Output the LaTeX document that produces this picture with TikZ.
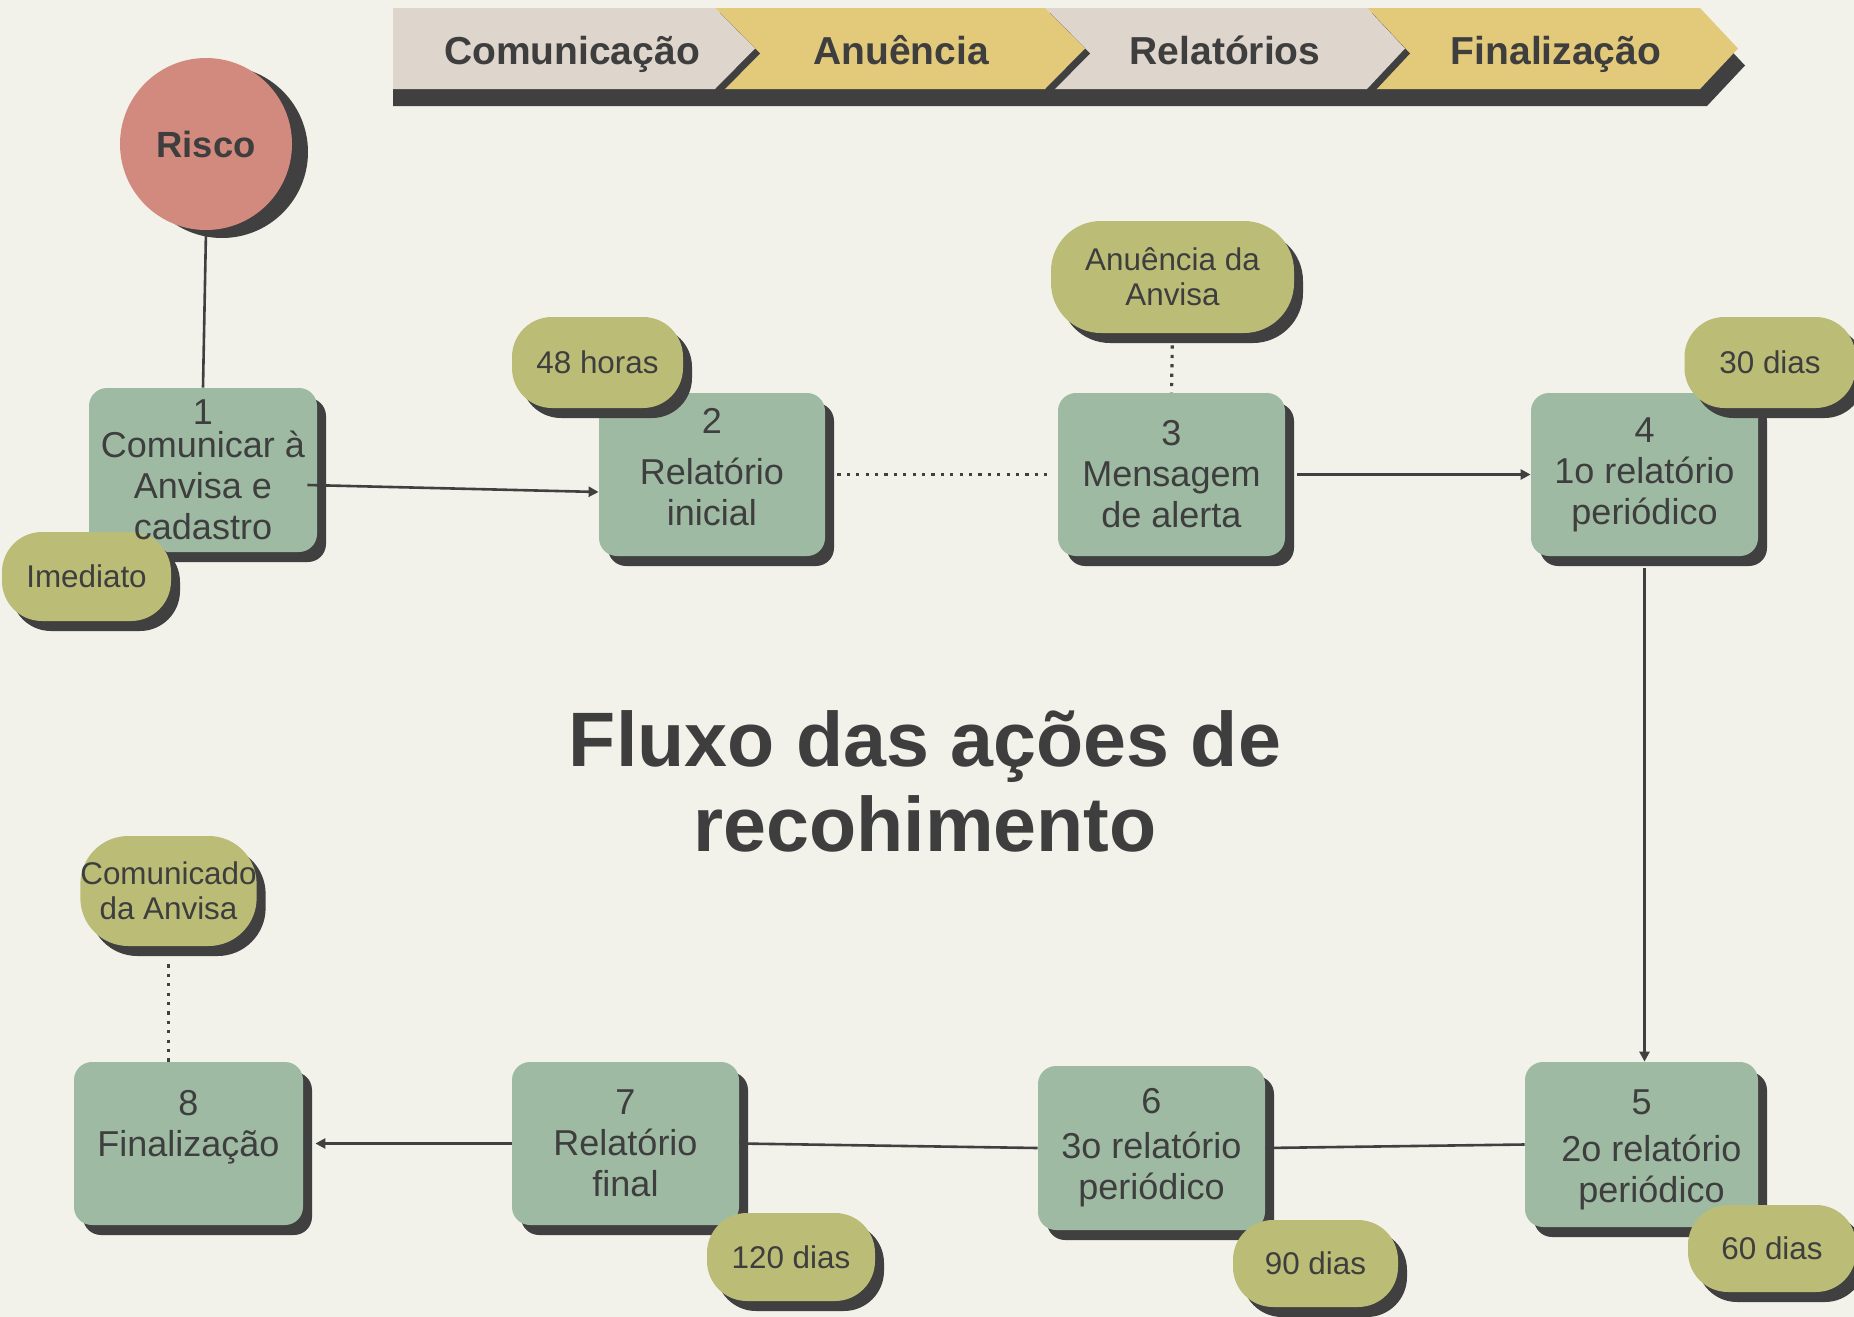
\documentclass[tikz,border=0pt]{standalone}
\usepackage{fontspec}
\setmainfont{Liberation Sans}
\usetikzlibrary{arrows.meta,calc}
\definecolor{bg}{HTML}{F2F2EB}
\definecolor{boxg}{HTML}{9EBAA3}
\definecolor{olive}{HTML}{BBBD76}
\definecolor{risk}{HTML}{D38A7E}
\definecolor{beige}{HTML}{DED5CC}
\definecolor{yel}{HTML}{E3CA7B}
\definecolor{dark}{HTML}{404040}
\definecolor{txt}{HTML}{3E3E3E}
\begin{document}
\begin{tikzpicture}[x=0.5pt,y=-0.5pt,
  box/.style={shape=rectangle, rounded corners=9pt, fill=boxg, inner sep=0pt, align=center, text=txt,
    font=\fontsize{18}{20.5}\selectfont,
    preaction={fill=dark, transform canvas={xshift=4.5pt,yshift=-5pt}}},
  boxtext/.style={inner sep=0pt, align=center, text=txt, font=\fontsize{18}{20.5}\selectfont},
  pill/.style={shape=rectangle, rounded corners=20pt, fill=olive, inner sep=0pt, align=center, text=txt,
    font=\fontsize{15.7}{17.7}\selectfont,
    preaction={fill=dark, transform canvas={xshift=4.5pt,yshift=-5pt}}},
  conn/.style={draw=dark, line width=1.3pt},
  arr/.style={conn, -{Triangle[length=5pt,width=5pt]}},
  dotl/.style={draw=dark, line width=1.6pt, dash pattern=on 1.6pt off 3.1pt},
  bantext/.style={text=txt, font=\fontsize{19.5}{22}\selectfont\bfseries, inner sep=0pt, anchor=base}
]
\fill[bg] (0,0) rectangle (1854,1317);
\useasboundingbox (0,0) rectangle (1854,1317);

% banner
\fill[dark] (393,25) -- (1707,25) -- (1745,65.5) -- (1707,106) -- (393,106) -- cycle;
\fill[yel] (1367,8) -- (1700,8) -- (1738,48.5) -- (1700,89) -- (1367,89) -- (1405,48.5) -- cycle;
\fill[dark] (1050,13) -- (1372,13) -- (1410,53.5) -- (1372,94) -- (1050,94) -- (1090,53.5) -- cycle;
\fill[beige] (1045,8) -- (1367,8) -- (1405,48.5) -- (1367,89) -- (1045,89) -- (1085,48.5) -- cycle;
\fill[dark] (720,13) -- (1050,13) -- (1090,53.5) -- (1050,94) -- (720,94) -- (760,53.5) -- cycle;
\fill[yel] (715,8) -- (1045,8) -- (1085,48.5) -- (1045,89) -- (715,89) -- (755,48.5) -- cycle;
\fill[dark] (398,13) -- (720,13) -- (760,53.5) -- (720,94) -- (398,94) -- cycle;
\fill[beige] (393,8) -- (715,8) -- (755,48.5) -- (715,89) -- (393,89) -- cycle;
\node[bantext] (s1) at (572,64) {Comunicação};
\node[bantext] (s2) at (901,64) {Anuência};
\node[bantext] (s3) at (1225,64) {Relatórios};
\node[bantext] (s4) at (1556,64) {Finalização};

% title
\node[text=txt, align=center, inner sep=0pt, font=\fontsize{38.6}{42.5}\selectfont\bfseries] (title) at (925,781) {Fluxo das ações de\\recohimento};

% risk circle
\node[circle, fill=risk, minimum size=86pt, inner sep=0pt, text=txt, font=\fontsize{18.2}{20}\selectfont\bfseries,
  preaction={fill=dark, transform canvas={xshift=8pt,yshift=-4pt}}] (risco) at (206,144) {Risco};

% boxes
\node[box, minimum width=114pt, minimum height=82pt] (b1) at (203,470) {};
\node[box, minimum width=113pt, minimum height=81.5pt, text depth=8pt] (b2) at (712,474.5) {2\\[5pt]Relatório\\inicial};
\node[box, minimum width=113.5pt, minimum height=81.5pt] (b3) at (1171.5,474.5) {3\\Mensagem\\de alerta};
\node[box, minimum width=113.5pt, minimum height=81.5pt] (b4) at (1644.5,474.5) {4\\1o relatório\\periódico};
\node[box, minimum width=116.5pt, minimum height=82.5pt, text height=61.5pt] (b5) at (1641.5,1144.5) {5\\[3pt]\hspace*{10pt}2o relatório\\\hspace*{10pt}periódico};
\node[box, minimum width=113.5pt, minimum height=82pt] (b6) at (1151.5,1148) {6\\[2pt]3o relatório\\periódico};
\node[box, minimum width=113.5pt, minimum height=81.5pt] (b7) at (625.5,1143.5) {7\\Relatório\\final};
\node[box, minimum width=114.5pt, minimum height=81.5pt] (b8) at (188.5,1143.5) {8\\Finalização\\\phantom{x}};

% pills
\node[pill, minimum width=85.5pt, minimum height=45.5pt] (p48) at (597.5,362.5) {48 horas};
\node[pill, minimum width=84.5pt, minimum height=44.5pt] (pim) at (86.5,576.5) {Imediato};
\node[pill, rounded corners=25pt, minimum width=121.5pt, minimum height=56pt] (pan) at (1172.5,277) {Anuência da\\Anvisa};
\node[pill, minimum width=85.5pt, minimum height=45.5pt] (p30) at (1770,362.5) {30 dias};
\node[pill, minimum width=84pt, minimum height=43.5pt] (p60) at (1772,1248.5) {60 dias};
\node[pill, minimum width=82.5pt, minimum height=43.5pt] (p90) at (1315.5,1263.5) {90 dias};
\node[pill, minimum width=84pt, minimum height=44pt] (p120) at (791,1257) {120 dias};
\node[pill, rounded corners=24pt, minimum width=85.5pt, minimum height=55pt] (pco) at (168.5,891) {Comunicado\\da Anvisa};

% text of box 1, printed over the pill that overlaps it
\node[boxtext] (b1t) at (b1.center) {1\\[-4pt]Comunicar à\\Anvisa e\\cadastro};

% connectors
\draw[conn] (risco.south) -- (b1.north);
\draw[arr] ([xshift=-5pt,yshift=-7.5pt]b1.east) -- ([yshift=-8.75pt]b2.west);
\draw[dotl, shorten <=6pt, shorten >=5pt] (b2.east) -- (b3.west);
\draw[dotl, shorten <=6pt] (pan.south) -- (b3.north);
\draw[arr] ([xshift=6pt]b3.east) -- (b4.west);
\draw[arr, shorten <=6pt] (b4.south) -- (b4.south |- b5.north);
\draw[conn] (b5.west) -- (b6.east);
\draw[conn] (b6.west) -- (b7.east);
\draw[arr] (b7.west) -- ([xshift=6pt]b8.east);
\draw[dotl, shorten <=9pt] (pco.south) -- (pco.south |- b8.north);
\end{tikzpicture}
\end{document}
